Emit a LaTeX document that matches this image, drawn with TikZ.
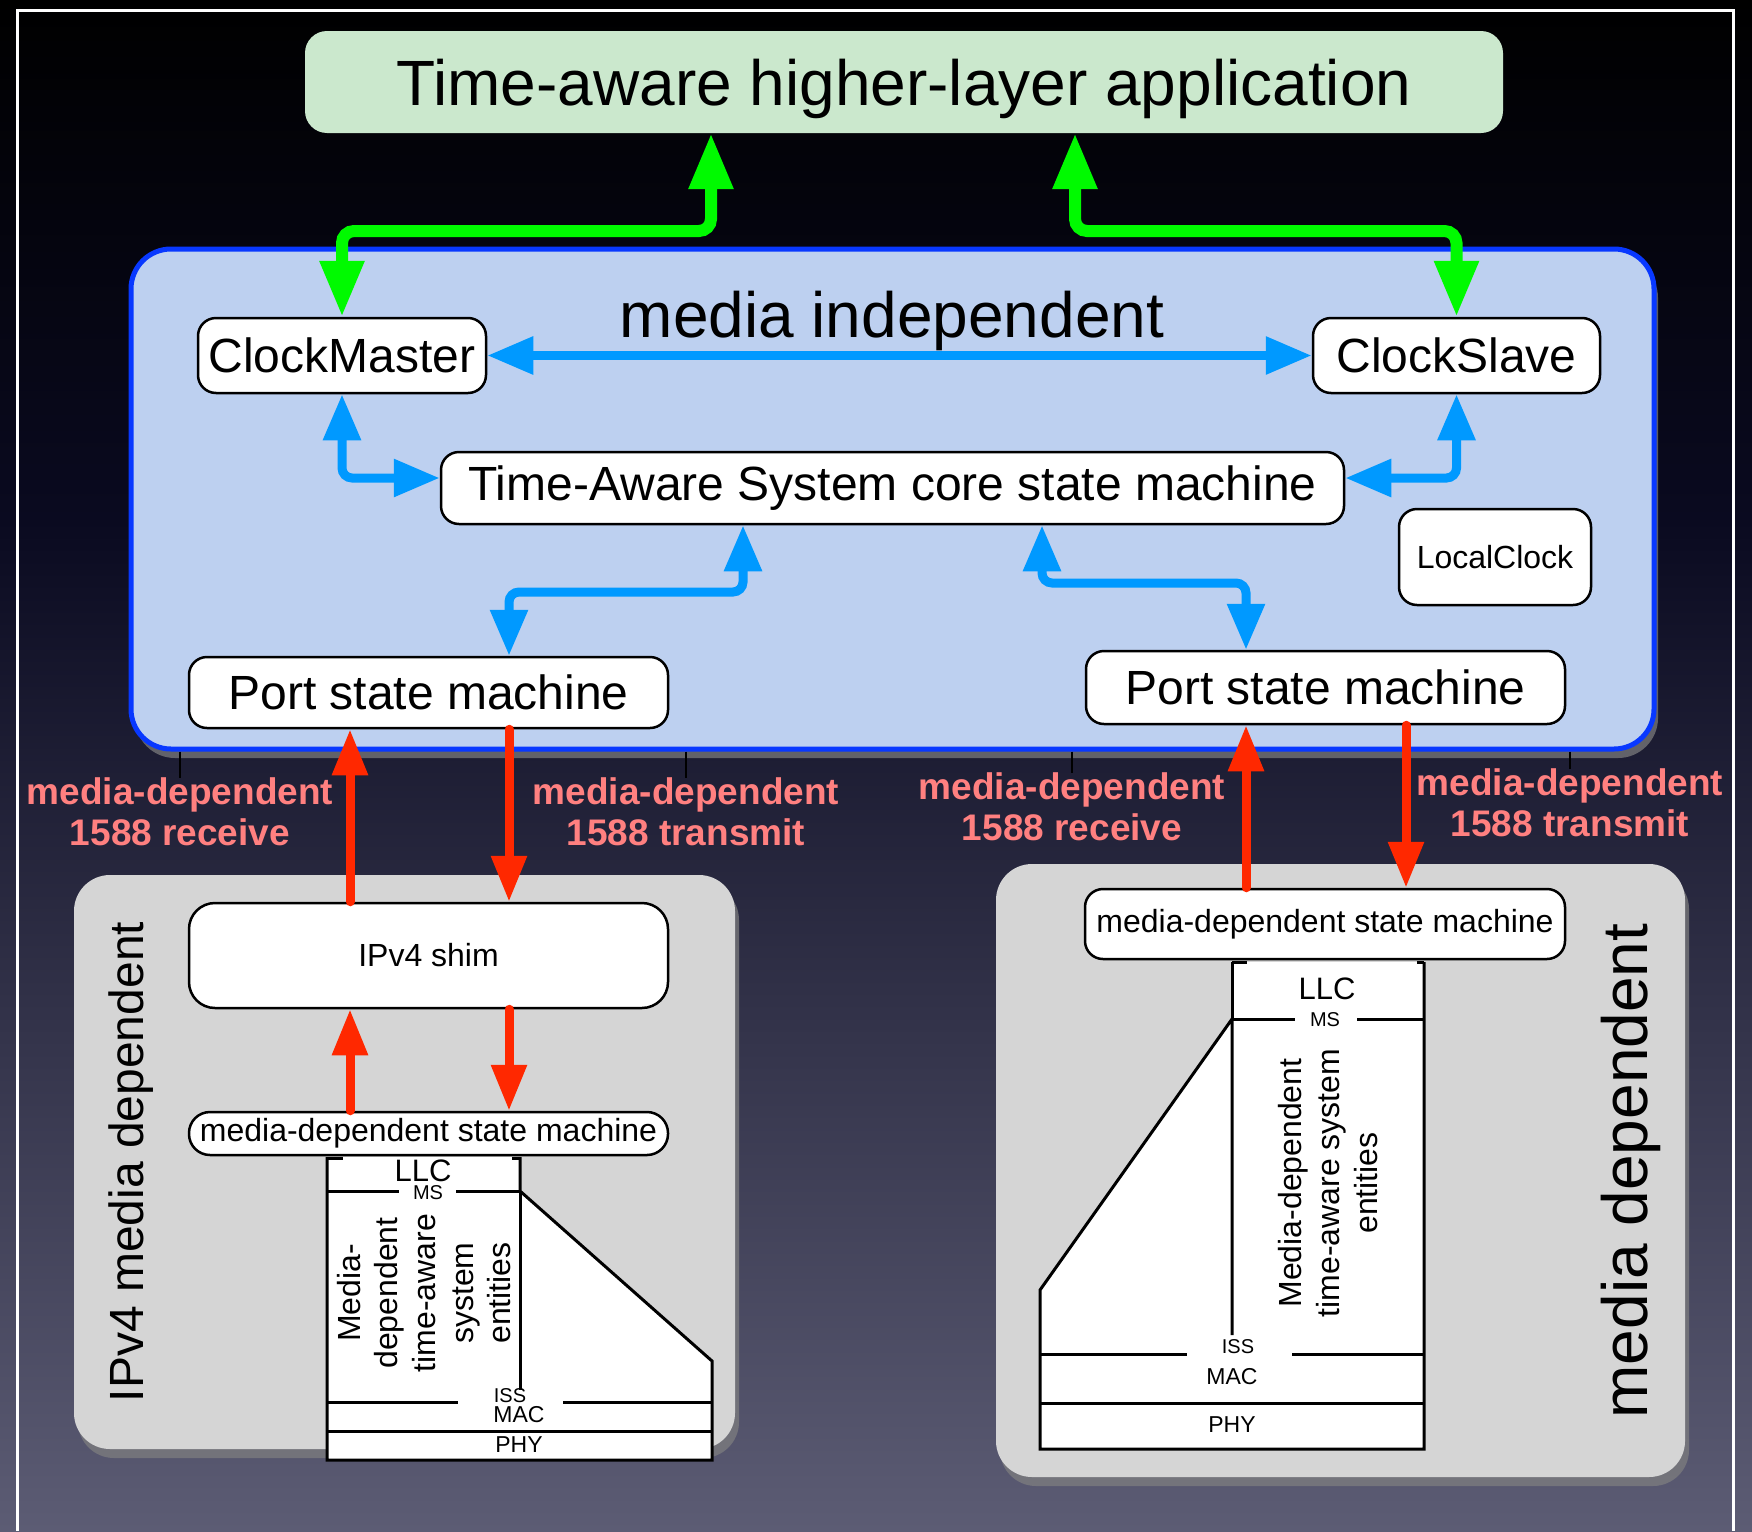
\documentclass[tikz,border=0pt]{standalone}
\usepackage{fontspec}
\setmainfont{Liberation Sans}
\usepackage{tikz}
\usetikzlibrary{arrows.meta,shadows}
\definecolor{appgreen}{RGB}{203,232,205}
\definecolor{indblue}{RGB}{189,208,240}
\definecolor{indedge}{RGB}{8,56,255}
\definecolor{boxgray}{RGB}{213,213,213}
\definecolor{arrgreen}{RGB}{0,250,0}
\definecolor{arrblue}{RGB}{0,153,255}
\definecolor{arrred}{RGB}{255,40,0}
\definecolor{lblpink}{RGB}{255,128,128}
\definecolor{bgmid}{RGB}{10,10,32}
\definecolor{bgbot}{RGB}{92,92,116}
\newcommand{\fsz}[2]{\fontsize{#1}{#2}\selectfont}

\begin{document}
\begin{tikzpicture}[x=1pt, y=-1pt,
  box/.style={draw=black, fill=white, line width=2.5pt, rounded corners=18pt, inner sep=0pt},
  garrow/.style={draw=arrgreen, line width=12pt, rounded corners=12pt, >={Triangle[length=56pt,width=42pt]}, <->},
  barrow/.style={draw=arrblue, line width=9pt, rounded corners=10pt, >={Triangle[length=46pt,width=36pt]}, <->},
  rarrow/.style={draw=arrred, line width=9pt, line cap=round, >={Triangle[length=46pt,width=34pt]}, ->},
  mdlbl/.style={text=lblpink, font=\fsz{37}{41}\bfseries, align=center, inner sep=0pt},
  stk/.style={draw=black, line width=3pt},
  shad/.style={drop shadow={shadow xshift=4pt, shadow yshift=-9pt, opacity=.7}}]
\useasboundingbox (0,0) rectangle (1752,1531);
\shade[top color=black, bottom color=bgmid] (0,0) rectangle (1752,520);
\shade[top color=bgmid, bottom color=bgbot] (0,520) rectangle (1752,1531);
\draw[white, line width=3pt] (17,1531) -- (17,10) -- (1733,10) -- (1733,1531);

\node[fill=appgreen, rounded corners=22pt, inner sep=0pt, minimum width=1198pt, minimum height=102pt, text depth=0pt, font=\fsz{64}{70}] (app) at (904,82) {Time-aware higher-layer application};

% media independent part
\node[draw=indedge, fill=indblue, line width=5pt, rounded corners=40pt, minimum width=1523pt, minimum height=500pt, shad] (indep) at (892.5,499) {};
\node[font=\fsz{64}{70}] (indlbl) at (892,321) {media independent};

\node[box, minimum width=288pt, minimum height=75pt, font=\fsz{48}{54}] (cm) at (342,355.5) {ClockMaster};
\node[box, minimum width=287pt, minimum height=75pt, font=\fsz{48}{54}] (cs) at (1456.5,355.5) {ClockSlave};
\node[box, minimum width=903pt, minimum height=72pt, font=\fsz{48}{54}] (tas) at (892.5,488) {Time-Aware System core state machine};
\node[box, minimum width=192pt, minimum height=96pt, font=\fsz{32}{36}] (lc) at (1495,557) {LocalClock};
\node[box, minimum width=479pt, minimum height=71pt, font=\fsz{48}{54}] (lp) at (428.5,692.5) {Port state machine};
\node[box, minimum width=479pt, minimum height=73pt, font=\fsz{48}{54}] (rp) at (1325.5,687.5) {Port state machine};

% media dependent parts
\node[fill=boxgray, rounded corners=36pt, inner sep=0pt, minimum width=661pt, minimum height=574pt, shad] (ipv4) at (404.5,1162) {};
\node[font=\fsz{48}{54}, rotate=90] (ipv4lbl) at (131,1162) {IPv4 media dependent};
\node[fill=boxgray, rounded corners=36pt, inner sep=0pt, minimum width=689pt, minimum height=613pt, shad] (mdep) at (1340.5,1170.5) {};
\node[font=\fsz{64}{70}, rotate=90] (mdeplbl) at (1631,1171) {media dependent};

% left stack
\fill[white] (327,1157) -- (520,1157) -- (520,1191) -- (712,1361) -- (712,1460) -- (327,1460) -- cycle;
\draw[stk] (327,1157) -- (327,1460) -- (712,1460) -- (712,1361) -- (520,1191) -- (520,1157);
\draw[stk] (520,1191) -- (520,1390);
\draw[stk] (327,1191) -- (399,1191) (456,1191) -- (520,1191);
\draw[stk] (327,1402) -- (458,1402) (563,1402) -- (712,1402);
\draw[stk] (327,1431) -- (712,1431);
\draw[stk] (327,1158) -- (343,1158) (512,1158) -- (520,1158);
\node[font=\fsz{31}{34}, inner sep=0pt] (llc1) at (423,1171) {LLC};
\node[font=\fsz{20}{22}, inner sep=0pt] (ms1) at (428,1193) {MS};
\node[font=\fsz{32}{37.7}, rotate=90, align=center] (ent1) at (424,1293) {Media-\\dependent\\time-aware\\system\\entities};
\node[font=\fsz{20}{22}] (iss1) at (510,1396) {ISS};
\node[font=\fsz{23}{26}] (mac1) at (519,1415) {MAC};
\node[font=\fsz{23}{26}] (phy1) at (519,1445) {PHY};

% right stack
\fill[white] (1232,962) -- (1424,962) -- (1424,1449) -- (1040,1449) -- (1040,1290) -- (1232,1019) -- cycle;
\draw[stk] (1424,962) -- (1424,1449) -- (1040,1449) -- (1040,1290) -- (1232,1019) -- (1232,1335);
\draw[stk] (1232,962) -- (1232,1019);
\draw[stk] (1232,1019) -- (1295,1019) (1357,1019) -- (1424,1019);
\draw[stk] (1040,1354) -- (1187,1354) (1292,1354) -- (1424,1354);
\draw[stk] (1040,1403) -- (1424,1403);
\draw[stk] (1232,962) -- (1247,962) (1417,962) -- (1424,962);
\node[font=\fsz{31}{34}] (llc2) at (1327,989) {LLC};
\node[font=\fsz{20}{22}] (ms2) at (1325,1020) {MS};
\node[font=\fsz{32}{38}, rotate=90, align=center] (ent2) at (1328,1183) {Media-dependent\\time-aware system\\entities};
\node[font=\fsz{20}{22}] (iss2) at (1238,1347) {ISS};
\node[font=\fsz{23}{26}] (mac2) at (1232,1377) {MAC};
\node[font=\fsz{23}{26}] (phy2) at (1232,1425) {PHY};

\node[box, rounded corners=26pt, minimum width=479pt, minimum height=105pt, font=\fsz{32}{36}] (shim) at (428.5,955.5) {IPv4 shim};
\node[box, rounded corners=21pt, minimum width=479pt, minimum height=43pt, font=\fsz{32}{36}] (lmd) at (428.5,1133.5) {media-dependent state machine};
\node[box, minimum width=480pt, minimum height=70pt, font=\fsz{32}{36}] (rmd) at (1325,924) {media-dependent state machine};

% green
\coordinate (gl) at (711,231);
\coordinate (gr) at (1075,231);
\draw[garrow] (cm.north) |- (gl) -- (gl |- app.south);
\draw[garrow] (gr |- app.south) -- (gr) -| (cs.north);

% blue
\draw[barrow] (cm) -- (cs);
\draw[barrow] (cm.south) |- ([yshift=10pt]tas.west);
\draw[barrow] (cs.south) |- ([yshift=10pt]tas.east);
\coordinate (bl) at (743,592); \coordinate (bl2) at (509,592);
\draw[barrow] (bl |- tas.south) -- (bl) -- (bl2) -- (bl2 |- lp.north);
\coordinate (br) at (1042,583); \coordinate (br2) at (1246,583);
\draw[barrow] (br |- tas.south) -- (br) -- (br2) -- (br2 |- rp.north);

% red
\coordinate (ra) at (350,0); \coordinate (rb) at (509,0);
\coordinate (rc) at (1246,0); \coordinate (rd) at (1406,0);
\draw[rarrow] (ra |- shim.north) -- (ra |- lp.south);
\draw[rarrow] (rb |- lp.south) -- (rb |- shim.north);
\draw[rarrow] (ra |- lmd.north) -- (ra |- shim.south);
\draw[rarrow] (rb |- shim.south) -- (rb |- lmd.north);
\draw[rarrow] (rc |- rmd.north) -- (rc |- rp.south);
\draw[rarrow] (rd |- rp.south) -- (rd |- rmd.north);

\node[mdlbl] (rx1) at (180,812) {media-dependent\\1588 receive};
\node[mdlbl] (tx1) at (686,812) {media-dependent\\1588 transmit};
\node[mdlbl] (rx2) at (1072,807) {media-dependent\\1588 receive};
\node[mdlbl] (tx2) at (1570,803) {media-dependent\\1588 transmit};
\foreach \l in {rx1,tx1,rx2,tx2}
  \draw[black, line width=1.5pt] (\l.north |- indep.south) -- (\l.north);
\end{tikzpicture}
\end{document}
